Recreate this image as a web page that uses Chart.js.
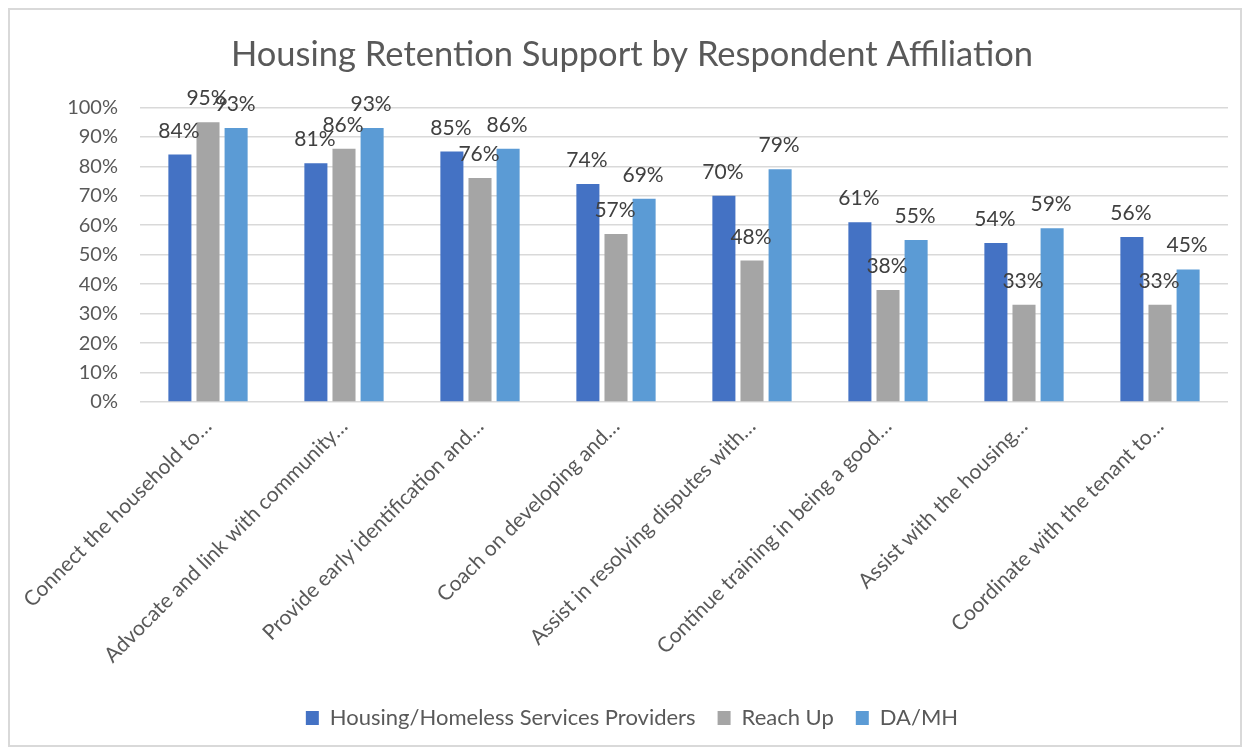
<!DOCTYPE html>
<html lang="en">
  <head>
    <meta charset="UTF-8">
    <script src="https://cdn.jsdelivr.net/npm/chart.js"></script>
    <style>
      body { margin: 0; background: #fff; }
      .chart-box {
        position: absolute;
        left: 8px;
        top: 8px;
        width: 1230px;
        height: 735px;
        border: 2px solid #d9d9d9;
      }
    </style>
  </head>
  <body>
    <div class="chart-box">
      <canvas id="chart"></canvas>
    </div>
    <script>
      // data
      const categories = [
        'Connect the household to…',
        'Advocate and link with community…',
        'Provide early identification and…',
        'Coach on developing and…',
        'Assist in resolving disputes with…',
        'Continue training in being a good…',
        'Assist with the housing…',
        'Coordinate with the tenant to…'
      ];
      const housingProviders = [84, 81, 85, 74, 70, 61, 54, 56];
      const reachUp = [95, 86, 76, 57, 48, 38, 33, 33];
      const daMh = [93, 93, 86, 69, 79, 55, 59, 45];
      const yTicks = [0, 10, 20, 30, 40, 50, 60, 70, 80, 90, 100];

      const textColor = '#595959';
      const fontFamily = 'Lato, "Open Sans", sans-serif';

      // value labels above each bar
      const barLabels = {
        id: 'barLabels',
        afterDatasetsDraw(chart) {
          const ctx = chart.ctx;
          ctx.save();
          ctx.font = '21px ' + fontFamily;
          ctx.fillStyle = '#404040';
          ctx.textAlign = 'center';
          ctx.textBaseline = 'alphabetic';
          chart.data.datasets.forEach((ds, i) => {
            chart.getDatasetMeta(i).data.forEach((bar, j) => {
              ctx.fillText(ds.data[j] + '%', bar.x - 1, bar.y - 17);
            });
          });
          ctx.restore();
        }
      };

      new Chart(document.getElementById('chart'), {
        type: 'bar',
        data: {
          labels: categories,
          datasets: [
            { label: 'Housing/Homeless Services Providers', data: housingProviders, backgroundColor: '#4472C4' },
            { label: 'Reach Up', data: reachUp, backgroundColor: '#A5A5A5' },
            { label: 'DA/MH', data: daMh, backgroundColor: '#5B9BD5' }
          ]
        },
        options: {
          responsive: true,
          maintainAspectRatio: false,
          animation: false,
          categoryPercentage: 0.62,
          barPercentage: 0.82,
          layout: { padding: { left: 26, right: 12, top: 24, bottom: 6 } },
          plugins: {
            title: {
              display: true,
              text: 'Housing Retention Support by Respondent Affiliation',
              color: textColor,
              font: { family: fontFamily, size: 34.5, weight: 'normal' },
              padding: { top: 0, bottom: 32 }
            },
            legend: {
              position: 'bottom',
              labels: {
                color: textColor,
                font: { family: fontFamily, size: 22 },
                boxWidth: 13,
                boxHeight: 14,
                padding: 22
              }
            },
            tooltip: { enabled: false }
          },
          scales: {
            x: {
              grid: { display: false },
              border: { display: false },
              ticks: {
                color: textColor,
                font: { family: fontFamily, size: 21 },
                minRotation: 45,
                maxRotation: 45,
                autoSkip: false,
                labelOffset: 0,
                padding: 4
              },
              afterFit(scale) { scale.height = 283; }
            },
            y: {
              min: 0,
              max: 100,
              afterBuildTicks(scale) { scale.ticks = yTicks.map(v => ({ value: v })); },
              grid: { color: '#d9d9d9', lineWidth: 1.5, drawTicks: false },
              border: { display: false },
              ticks: {
                color: textColor,
                font: { family: fontFamily, size: 20 },
                padding: 22,
                callback: v => v + '%'
              },
              afterFit(scale) { scale.width = 104; }
            }
          }
        },
        plugins: [barLabels]
      });
    </script>
  </body>
</html>
